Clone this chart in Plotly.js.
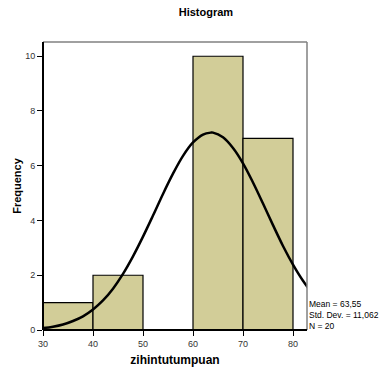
<!DOCTYPE html>
<html>
<head>
<meta charset="utf-8">
<script src="https://cdn.plot.ly/plotly-3.0.1.min.js"></script>
<style>html,body{margin:0;padding:0;background:#fff;}#chart{width:382px;height:376px;}</style>
</head>
<body>
<div id="chart"></div>
<script>
// Histogram bins (left edges), width and counts
const binStarts = [30, 40, 50, 60, 70];
const binWidth = 10;
const counts = [1, 2, 0, 10, 7];

// Normal curve (x, expected frequency)
const curveX = [30, 32, 34, 36, 38, 40, 42, 44, 46, 48, 50, 52, 54, 56, 58, 60, 62, 63.55, 64, 66, 68, 70, 72, 74, 76, 78, 80, 82, 84];
const curveY = [0.07, 0.12, 0.20, 0.33, 0.50, 0.75, 1.08, 1.51, 2.05, 2.69, 3.41, 4.18, 4.97, 5.71, 6.36, 6.85, 7.14, 7.21, 7.21, 7.04, 6.65, 6.09, 5.39, 4.62, 3.83, 3.07, 2.39, 1.80, 1.31];

const statsLines = ["Mean = 63,55", "Std. Dev. = 11,062", "N = 20"];
const xTicks = [30, 40, 50, 60, 70, 80];
const yTicks = [0, 2, 4, 6, 8, 10];

const font = "Liberation Sans, Arial, sans-serif";

const bars = {
  type: "bar",
  x: binStarts.map(s => s + binWidth / 2),
  y: counts,
  width: binStarts.map(() => binWidth),
  marker: { color: "#d2cd98", line: { color: "#000", width: 1.2 } },
  hoverinfo: "skip"
};
const curve = {
  type: "scatter",
  mode: "lines",
  x: curveX,
  y: curveY,
  line: { color: "#000", width: 2.5, shape: "spline" },
  hoverinfo: "skip"
};

const layout = {
  width: 382, height: 376,
  margin: { l: 43, r: 75, t: 42, b: 46 },
  paper_bgcolor: "#fff", plot_bgcolor: "#fff",
  showlegend: false,
  bargap: 0,
  font: { family: font, color: "#222" },
  title: { text: "<b>Histogram</b>", font: { family: font, size: 11, color: "#000" },
           xref: "container", x: 0.539, xanchor: "center", yref: "container", y: 0.968, yanchor: "middle" },
  xaxis: {
    range: [30, 82.8], tickvals: xTicks, ticktext: xTicks.map(String),
    ticks: "outside", ticklen: 5, tickcolor: "#000", tickwidth: 1,
    showgrid: false, zeroline: false, showline: false,
    tickfont: { family: font, size: 9, color: "#333" },
    title: { text: "<b>zihintutumpuan</b>", font: { family: font, size: 12, color: "#000" }, standoff: 7 }
  },
  yaxis: {
    range: [0, 10.52], tickvals: yTicks, ticktext: yTicks.map(String),
    ticks: "outside", ticklen: 5, tickcolor: "#000", tickwidth: 1,
    showgrid: false, zeroline: false, showline: false,
    tickfont: { family: font, size: 9, color: "#333" },
    title: { text: "<b>Frequency</b>", font: { family: font, size: 11, color: "#000" }, standoff: 1 }
  },
  shapes: [
    { type: "line", xref: "paper", yref: "paper", x0: 0, x1: 1, y0: 1, y1: 1, line: { color: "#808080", width: 1.5 } },
    { type: "line", xref: "paper", yref: "paper", x0: 1, x1: 1, y0: 0, y1: 1, line: { color: "#808080", width: 1.5 } },
    { type: "line", xref: "paper", yref: "paper", x0: 0, x1: 0, y0: 0, y1: 1, line: { color: "#000", width: 2 } },
    { type: "line", xref: "paper", yref: "paper", x0: 0, x1: 1, y0: 0, y1: 0, line: { color: "#000", width: 2 } }
  ],
  annotations: [{
    xref: "paper", yref: "paper", x: 1, y: 0, xanchor: "left", yanchor: "bottom", xshift: 0, yshift: -3,
    align: "left", showarrow: false, text: statsLines.join("<br>"),
    font: { family: font, size: 8.5, color: "#000" }
  }]
};

Plotly.newPlot("chart", [bars, curve], layout, { displayModeBar: false, staticPlot: true });
</script>
</body>
</html>
